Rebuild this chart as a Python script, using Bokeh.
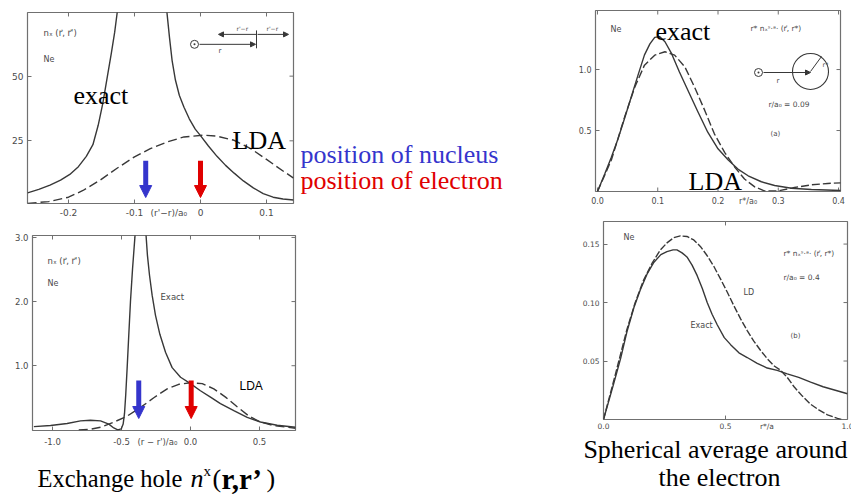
from bokeh.plotting import figure
from bokeh.models import Range1d, FixedTicker, Label, Arrow, NormalHead, PrintfTickFormatter
from bokeh.layouts import row, column
from bokeh.embed import file_html
from bokeh.resources import INLINE

# ---------------- data ----------------
# Panel A: exchange hole n_x(r, r') of Ne on a line, r/a0 ~ 0.09
a_exact_left_x = [-0.262, -0.245, -0.228, -0.212, -0.198, -0.185, -0.173, -0.163, -0.155, -0.148, -0.141, -0.135, -0.130, -0.126]
a_exact_left_y = [4.9, 6.2, 7.9, 9.8, 12.0, 15.0, 19.0, 23.5, 31.0, 39.5, 50.0, 59.0, 67.0, 75.0]
a_exact_right_x = [-0.051, -0.047, -0.043, -0.038, -0.032, -0.025, -0.017, -0.008, 0.0, 0.012, 0.025, 0.038, 0.051, 0.065, 0.080, 0.095, 0.110, 0.125, 0.141]
a_exact_right_y = [75.0, 65.0, 56.0, 48.5, 42.5, 38.0, 33.5, 29.5, 27.0, 23.0, 19.0, 15.5, 12.5, 9.5, 6.8, 4.6, 3.2, 2.5, 2.1]
a_lda_x = [-0.262, -0.23, -0.2, -0.178, -0.152, -0.127, -0.1, -0.076, -0.05, -0.025, 0.005, 0.025, 0.051, 0.076, 0.1, 0.127, 0.141]
a_lda_y = [0.8, 1.5, 3.2, 5.8, 9.8, 14.3, 18.8, 22.0, 24.6, 26.5, 27.2, 26.8, 25.2, 22.0, 17.8, 13.0, 10.6]
a_xticks = [-0.2, -0.1, 0.0, 0.1]
a_yticks = [25, 50]
a_xlabel, a_xlabel_at = "(r'−r)/a₀", -0.048

# Panel B: exchange hole on a line, r/a0 ~ 0.4
b_exact_left_x = [-1.135, -1.014, -0.894, -0.797, -0.725, -0.652, -0.592, -0.556, -0.527, -0.502, -0.488, -0.478, -0.469, -0.459, -0.447, -0.435, -0.420, -0.403, -0.396]
b_exact_left_y = [0.05, 0.067, 0.10, 0.14, 0.15, 0.14, 0.09, 0.03, 0.0, 0.015, 0.09, 0.26, 0.56, 0.97, 1.49, 2.0, 2.51, 3.0, 3.23]
b_exact_right_x = [-0.329, -0.321, -0.312, -0.297, -0.278, -0.254, -0.222, -0.181, -0.133, -0.072, 0.0, 0.072, 0.145, 0.217, 0.314, 0.411, 0.507, 0.628, 0.761]
b_exact_right_y = [3.23, 3.0, 2.72, 2.41, 2.10, 1.79, 1.49, 1.21, 0.97, 0.82, 0.72, 0.61, 0.51, 0.41, 0.30, 0.195, 0.123, 0.072, 0.04]
b_lda_x = [-0.81, -0.725, -0.652, -0.556, -0.459, -0.362, -0.266, -0.169, -0.085, 0.0, 0.085, 0.169, 0.254, 0.338, 0.423, 0.507, 0.604, 0.761]
b_lda_y = [0.0, 0.01, 0.04, 0.12, 0.215, 0.35, 0.50, 0.64, 0.71, 0.735, 0.72, 0.64, 0.51, 0.36, 0.215, 0.123, 0.067, 0.026]
b_xticks = [-1.0, -0.5, 0.0, 0.5]
b_yticks = [1.0, 2.0, 3.0]
b_xlabel, b_xlabel_at = "(r − r')/a₀", -0.24

# Panel C: spherical average r* n_x^sa(r, r*), r/a0 = 0.09
c_exact_x = [0.0, 0.012, 0.023, 0.034, 0.045, 0.056, 0.067, 0.078, 0.087, 0.095, 0.103, 0.112, 0.123, 0.136, 0.150, 0.167, 0.183, 0.200, 0.217, 0.233, 0.250, 0.272, 0.294, 0.322, 0.355, 0.404]
c_exact_y = [0.0, 0.143, 0.28, 0.43, 0.60, 0.775, 0.95, 1.12, 1.21, 1.264, 1.27, 1.228, 1.13, 0.98, 0.83, 0.65, 0.486, 0.35, 0.258, 0.184, 0.129, 0.080, 0.049, 0.027, 0.016, 0.008]
c_lda_x = [0.0, 0.023, 0.045, 0.062, 0.078, 0.095, 0.112, 0.128, 0.145, 0.161, 0.178, 0.194, 0.211, 0.228, 0.244, 0.261, 0.277, 0.300, 0.327, 0.355, 0.382, 0.404]
c_lda_y = [0.0, 0.258, 0.61, 0.857, 1.036, 1.118, 1.146, 1.118, 1.022, 0.857, 0.665, 0.473, 0.321, 0.198, 0.102, 0.038, 0.005, 0.005, 0.033, 0.055, 0.066, 0.071]
c_xticks = [0.0, 0.1, 0.2, 0.3, 0.4]
c_yticks = [0.5, 1.0]
c_xlabel, c_xlabel_at = "r*/a₀", 0.25

# Panel D: spherical average, r/a0 = 0.4
d_exact_x = [0.0, 0.041, 0.07, 0.096, 0.125, 0.151, 0.18, 0.205, 0.235, 0.26, 0.285, 0.301, 0.322, 0.342, 0.363, 0.384, 0.405, 0.425, 0.445, 0.466, 0.495, 0.521, 0.555, 0.589, 0.63, 0.671, 0.712, 0.753, 0.80, 0.849, 0.90, 0.95, 1.0]
d_exact_y = [0.0, 0.030, 0.052, 0.075, 0.096, 0.111, 0.125, 0.134, 0.141, 0.1436, 0.145, 0.145, 0.1425, 0.139, 0.132, 0.123, 0.112, 0.100, 0.090, 0.081, 0.070, 0.064, 0.057, 0.053, 0.048, 0.044, 0.042, 0.039, 0.036, 0.032, 0.028, 0.025, 0.022]
d_lda_x = [0.0, 0.048, 0.096, 0.13, 0.164, 0.2, 0.233, 0.26, 0.288, 0.315, 0.342, 0.37, 0.397, 0.425, 0.452, 0.48, 0.507, 0.535, 0.562, 0.589, 0.616, 0.644, 0.671, 0.698, 0.726, 0.753, 0.781, 0.815, 0.849, 0.884, 0.918, 0.959, 0.975]
d_lda_y = [0.0, 0.038, 0.077, 0.100, 0.119, 0.134, 0.145, 0.151, 0.1555, 0.157, 0.1565, 0.1535, 0.148, 0.140, 0.131, 0.120, 0.109, 0.097, 0.086, 0.076, 0.067, 0.059, 0.052, 0.046, 0.042, 0.036, 0.028, 0.020, 0.013, 0.008, 0.004, 0.001, 0.0]
d_xticks = [0.0, 0.5, 1.0]
d_yticks = [0.05, 0.10, 0.15]
d_xlabel, d_xlabel_at = "r*/a", 0.67

# positions of nucleus / electron (data x) for the arrows
a_nucleus_x, a_electron_x = -0.083, 0.0
b_nucleus_x, b_electron_x = -0.375, 0.005

# ---------------- styling ----------------
CURVE = "#383838"
FRAME = "#707070"
TICKC = "#4a4a4a"
BLUE = "#3535cc"
RED = "#e00000"
SERIF = "Liberation Serif"
SANS = "DejaVu Sans"


class Map:
    """map page pixels to the data space of a panel"""
    def __init__(self, fl, ft, fr, fb, xr, yr):
        self.fl, self.ft, self.fr, self.fb, self.xr, self.yr = fl, ft, fr, fb, xr, yr

    def x(self, px):
        return self.xr[0] + (px - self.fl) / (self.fr - self.fl) * (self.xr[1] - self.xr[0])

    def y(self, py):
        return self.yr[0] + (self.fb - py) / (self.fb - self.ft) * (self.yr[1] - self.yr[0])


def make_fig(ox, oy, w, h, fl, ft, fr, fb, xr, yr, xt, yt, tick_size, xstand, ystand, xlab, xlab_at, xfmt, yfmt):
    p = figure(width=w, height=h, x_range=Range1d(*xr), y_range=Range1d(*yr), title=None,
               output_backend="svg", toolbar_location=None,
               min_border_left=fl - ox, min_border_right=ox + w - fr,
               min_border_top=ft - oy, min_border_bottom=oy + h - fb)
    p.xgrid.visible = False
    p.ygrid.visible = False
    p.outline_line_color = FRAME
    p.outline_line_width = 1.2
    p.background_fill_color = "white"
    p.border_fill_color = "white"
    m = Map(fl, ft, fr, fb, xr, yr)
    # x axis: labels only (incl. the axis title placed among the tick labels)
    p.xaxis.ticker = FixedTicker(ticks=list(xt) + [xlab_at])
    p.xaxis.formatter = PrintfTickFormatter(format=xfmt)
    p.xaxis.major_label_overrides = {xlab_at: xlab}
    p.xaxis.major_tick_line_color = None
    p.yaxis.ticker = FixedTicker(ticks=yt)
    p.yaxis.formatter = PrintfTickFormatter(format=yfmt)
    p.yaxis.major_tick_in = 4
    p.yaxis.major_tick_line_color = FRAME
    for ax, st in ((p.xaxis, xstand), (p.yaxis, ystand)):
        ax.axis_line_color = None
        ax.major_tick_out = 0
        ax.minor_tick_line_color = None
        ax.major_label_text_font_size = tick_size
        ax.major_label_text_color = TICKC
        ax.major_label_text_font = SANS
        ax.major_label_standoff = st
    # inward tick marks on bottom, top and right edges
    n, k = len(xt), len(yt)
    p.segment(x0=xt, y0=[yr[0]] * n, x1=xt, y1=[m.y(fb - 4)] * n, line_color=FRAME, line_width=1)
    p.segment(x0=xt, y0=[yr[1]] * n, x1=xt, y1=[m.y(ft + 4)] * n, line_color=FRAME, line_width=1)
    p.segment(x0=[xr[1]] * k, y0=yt, x1=[m.x(fr - 4)] * k, y1=yt, line_color=FRAME, line_width=1)
    return p, m


class Ident:
    def x(self, px):
        return px

    def y(self, py):
        return py


def text_fig(ox, oy, w, h):
    p = figure(width=w, height=h, x_range=Range1d(ox, ox + w), y_range=Range1d(oy + h, oy), title=None,
               output_backend="svg", toolbar_location=None, x_axis_type=None, y_axis_type=None,
               min_border_left=0, min_border_right=0, min_border_top=0, min_border_bottom=0)
    p.xgrid.visible = False
    p.ygrid.visible = False
    p.outline_line_color = None
    p.background_fill_color = "white"
    p.border_fill_color = "white"
    return p, Ident()


def lab(p, m, px, py, text, size, color=TICKC, font=SANS, align="left", baseline="middle", style="normal"):
    p.add_layout(Label(x=m.x(px), y=m.y(py), text=text, text_font_size=f"{size}px", text_color=color,
                       text_font=font, text_align=align, text_baseline=baseline, text_font_style=style))


def big(p, m, px, py, text, color="black", size=26, align="left", style="normal"):
    lab(p, m, px, py, text, size, color=color, font=SERIF, align=align, baseline="middle", style=style)


def seg(p, m, x0, y0, x1, y1, head=None, color=CURVE, width=1.0):
    p.add_layout(Arrow(x_start=m.x(x0), y_start=m.y(y0), x_end=m.x(x1), y_end=m.y(y1),
                       end=head, line_color=color, line_width=width))


def small_head(color=CURVE):
    return NormalHead(size=5, fill_color=color, line_color=color)


# ---------------- panel A ----------------
pA, mA = make_fig(0, 0, 300, 220, 27, 12, 293, 204, (-0.2621, 0.1409), (0.77, 74.6),
                  a_xticks, a_yticks, "9px", 4, 4, a_xlabel, a_xlabel_at, "%.1f", "%d")
pA.xaxis.major_label_overrides = {0: "0", a_xlabel_at: a_xlabel}
pA.line(a_exact_left_x, a_exact_left_y, line_color=CURVE, line_width=1.4)
pA.line(a_exact_right_x, a_exact_right_y, line_color=CURVE, line_width=1.4)
pA.line(a_lda_x, a_lda_y, line_color=CURVE, line_width=1.4, line_dash="9 4")
lab(pA, mA, 43, 33, "nₓ (r⃗, r⃗')", 8.5)
lab(pA, mA, 43, 59, "Ne", 8)
big(pA, mA, 73, 95, "exact")
big(pA, mA, 232, 141, "LDA")
pA.scatter([mA.x(194)], [mA.y(44)], marker="circle_dot", size=8, fill_color=None, line_color=CURVE)
seg(pA, mA, 199, 44, 255, 44, small_head())
seg(pA, mA, 256, 30, 256, 48)
seg(pA, mA, 256, 34, 218, 34, small_head())
seg(pA, mA, 257, 34, 288, 34, small_head())
lab(pA, mA, 236, 28, "r'−r", 6)
lab(pA, mA, 266, 28, "r'−r", 6)
lab(pA, mA, 218, 51, "r", 7)
for xx, c in ((a_nucleus_x, BLUE), (a_electron_x, RED)):
    pA.add_layout(Arrow(x_start=xx, y_start=mA.y(161), x_end=xx, y_end=mA.y(198),
                        end=NormalHead(size=12, fill_color=c, line_color=c),
                        line_color=c, line_width=5))

# text area to the right of panel A
tA, iA = text_fig(300, 0, 260, 220)
big(tA, iA, 300, 163, "position of nucleus", color=BLUE)
big(tA, iA, 300, 193, "position of electron", color=RED)

# ---------------- panel B ----------------
pB, mB = make_fig(0, 220, 560, 235, 32, 235, 295, 430, (-1.145, 0.761), (-0.01, 3.03),
                  b_xticks, b_yticks, "8.5px", 6, 4, b_xlabel, b_xlabel_at, "%.1f", "%.1f")
pB.line(b_exact_left_x, b_exact_left_y, line_color=CURVE, line_width=1.4)
pB.line(b_exact_right_x, b_exact_right_y, line_color=CURVE, line_width=1.4)
pB.line(b_lda_x, b_lda_y, line_color=CURVE, line_width=1.4, line_dash="9 4")
lab(pB, mB, 47, 260, "nₓ (r⃗, r⃗')", 8.5)
lab(pB, mB, 47, 283, "Ne", 8)
lab(pB, mB, 160, 296, "Exact", 8.5)
lab(pB, mB, 239, 385, "LDA", 12, color="black", font="Liberation Sans")
for xx, c in ((b_nucleus_x, BLUE), (b_electron_x, RED)):
    pB.add_layout(Arrow(x_start=xx, y_start=mB.y(380), x_end=xx, y_end=mB.y(418),
                        end=NormalHead(size=12, fill_color=c, line_color=c),
                        line_color=c, line_width=5))

# caption below panel B
capB, iB = text_fig(0, 455, 560, 42)
mid = 478
big(capB, iB, 37, mid, "Exchange hole", size=24.5)
big(capB, iB, 190, mid, "n", style="italic")
big(capB, iB, 203, mid - 8, "x", size=15)
big(capB, iB, 212, mid, "(")
big(capB, iB, 221, mid, "r,r’", size=29, style="bold")
big(capB, iB, 266, mid, ")")

# ---------------- panel C ----------------
pC, mC = make_fig(560, 0, 291, 220, 595, 10, 840, 191, (-0.0033, 0.4033), (0.0, 1.484),
                  c_xticks, c_yticks, "8px", 5, 4, c_xlabel, c_xlabel_at, "%.1f", "%.1f")
pC.line(c_exact_x, c_exact_y, line_color=CURVE, line_width=1.4)
pC.line(c_lda_x, c_lda_y, line_color=CURVE, line_width=1.4, line_dash="8 3")
lab(pC, mC, 610, 29, "Ne", 8)
lab(pC, mC, 750, 28, "r* nₓˢ·ᵃ· (r⃗, r*)", 7.5)
pC.scatter([mC.x(758)], [mC.y(72)], marker="circle_dot", size=8, fill_color=None, line_color=CURVE)
pC.scatter([mC.x(810)], [mC.y(71)], marker="circle", size=36, fill_color=None, line_color=CURVE, line_width=1.1)
seg(pC, mC, 763, 72, 810, 72, small_head())
seg(pC, mC, 810, 71, 821, 56)
lab(pC, mC, 822, 64, "r*", 6.5)
lab(pC, mC, 776, 80, "r", 7)
lab(pC, mC, 768, 104, "r/a₀ = 0.09", 7.5)
lab(pC, mC, 770, 133, "(a)", 7)
big(pC, mC, 655, 31, "exact")
big(pC, mC, 688, 181, "LDA")

# ---------------- panel D ----------------
pD, mD = make_fig(560, 220, 291, 213, 603, 221, 847, 422, (0.0, 1.0), (0.0, 0.1693),
                  d_xticks, d_yticks, "7.5px", 2, 4, d_xlabel, d_xlabel_at, "%.1f", "%.2f")
pD.line(d_exact_x, d_exact_y, line_color=CURVE, line_width=1.4)
pD.line(d_lda_x, d_lda_y, line_color=CURVE, line_width=1.4, line_dash="7 2")
lab(pD, mD, 623, 237, "Ne", 8)
lab(pD, mD, 783, 253, "r* nₓˢ·ᵃ· (r⃗, r*)", 7.5)
lab(pD, mD, 783, 278, "r/a₀ = 0.4", 7.5)
lab(pD, mD, 743, 293, "LD", 8)
lab(pD, mD, 690, 327, "Exact", 8)
lab(pD, mD, 790, 337, "(b)", 7)

# caption below panel D
capD, iD = text_fig(560, 433, 291, 64)
big(capD, iD, 715, 449, "Spherical average around", align="center")
big(capD, iD, 719, 477, "the electron", align="center")

left = column(row(pA, tA), row(pB), row(capB))
right = column(row(pC), row(pD), row(capD))
layout = row(left, right)
open("out.html", "w").write(file_html(layout, INLINE))
